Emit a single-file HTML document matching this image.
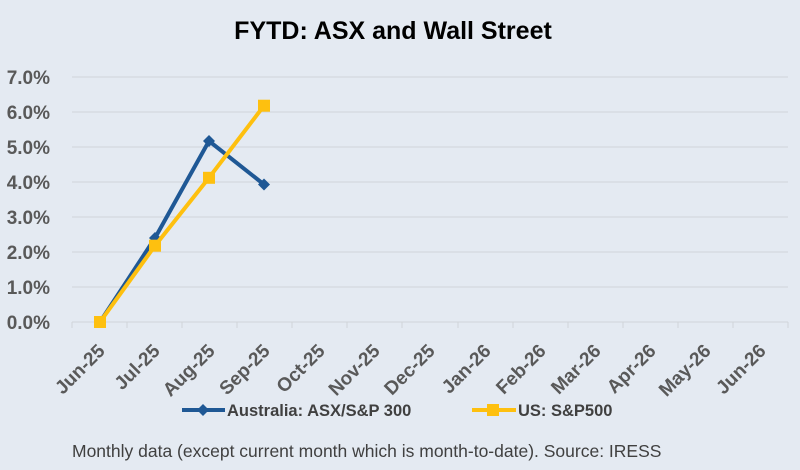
<!DOCTYPE html>
<html><head><style>
body{margin:0;background:#e4eaf2}
svg{display:block}
text{font-family:"Liberation Sans",sans-serif}
</style></head><body>
<svg width="800" height="470" viewBox="0 0 800 470">
<rect width="800" height="470" fill="#e4eaf2"/>
<text x="393" y="39" text-anchor="middle" font-size="25" font-weight="bold" fill="#000">FYTD: ASX and Wall Street</text>
<g stroke="#d0d4d9" stroke-width="1">
<line x1="72" x2="788" y1="77" y2="77"/><line x1="72" x2="788" y1="112" y2="112"/>
<line x1="72" x2="788" y1="147" y2="147"/><line x1="72" x2="788" y1="182" y2="182"/>
<line x1="72" x2="788" y1="217" y2="217"/><line x1="72" x2="788" y1="252" y2="252"/>
<line x1="72" x2="788" y1="287" y2="287"/><line x1="72" x2="788" y1="322" y2="322"/>
</g>
<g stroke="#d0d4d9">
<line x1="72" x2="72" y1="322" y2="328"/><line x1="127" x2="127" y1="322" y2="328"/><line x1="182" x2="182" y1="322" y2="328"/><line x1="237" x2="237" y1="322" y2="328"/><line x1="292" x2="292" y1="322" y2="328"/><line x1="347" x2="347" y1="322" y2="328"/><line x1="402" x2="402" y1="322" y2="328"/><line x1="458" x2="458" y1="322" y2="328"/><line x1="513" x2="513" y1="322" y2="328"/><line x1="568" x2="568" y1="322" y2="328"/><line x1="623" x2="623" y1="322" y2="328"/><line x1="678" x2="678" y1="322" y2="328"/><line x1="733" x2="733" y1="322" y2="328"/><line x1="788" x2="788" y1="322" y2="328"/>
</g>
<g font-size="19" font-weight="bold" fill="#595959" text-anchor="end">
<text x="50" y="84">7.0%</text><text x="50" y="119">6.0%</text><text x="50" y="154">5.0%</text><text x="50" y="189">4.0%</text><text x="50" y="224">3.0%</text><text x="50" y="259">2.0%</text><text x="50" y="294">1.0%</text><text x="50" y="329">0.0%</text>
</g>
<g font-size="19" font-weight="bold" fill="#595959" text-anchor="end">
<text transform="translate(106,352) rotate(-45)">Jun-25</text>
<text transform="translate(161,352) rotate(-45)">Jul-25</text>
<text transform="translate(216,352) rotate(-45)">Aug-25</text>
<text transform="translate(271,352) rotate(-45)">Sep-25</text>
<text transform="translate(326,352) rotate(-45)">Oct-25</text>
<text transform="translate(381,352) rotate(-45)">Nov-25</text>
<text transform="translate(436,352) rotate(-45)">Dec-25</text>
<text transform="translate(492,352) rotate(-45)">Jan-26</text>
<text transform="translate(547,352) rotate(-45)">Feb-26</text>
<text transform="translate(602,352) rotate(-45)">Mar-26</text>
<text transform="translate(657,352) rotate(-45)">Apr-26</text>
<text transform="translate(712,352) rotate(-45)">May-26</text>
<text transform="translate(767,352) rotate(-45)">Jun-26</text>
</g>
<polyline points="100,322 155,238 209,141 264,184.5" fill="none" stroke="#1f5895" stroke-width="4" stroke-linejoin="round"/>
<g fill="#1f5895">
<path d="M100,316 l6,6 -6,6 -6,-6z"/><path d="M155,232 l6,6 -6,6 -6,-6z"/><path d="M209,135 l6,6 -6,6 -6,-6z"/><path d="M264,178.5 l6,6 -6,6 -6,-6z"/>
</g>
<polyline points="100,322 155,245.7 209,177.8 264,105.7" fill="none" stroke="#fec00f" stroke-width="4" stroke-linejoin="round"/>
<g fill="#fec00f">
<rect x="94" y="316" width="12" height="12"/><rect x="149" y="239.7" width="12" height="12"/><rect x="203" y="171.8" width="12" height="12"/><rect x="258" y="99.7" width="12" height="12"/>
</g>
<line x1="182" x2="225" y1="410" y2="410" stroke="#1f5895" stroke-width="4"/>
<path d="M203,404 l6,6 -6,6 -6,-6z" fill="#1f5895"/>
<text x="227" y="416" font-size="16.5" font-weight="bold" fill="#404040">Australia: ASX/S&amp;P 300</text>
<line x1="472" x2="516" y1="410" y2="410" stroke="#fec00f" stroke-width="4"/>
<rect x="487" y="404" width="12" height="12" fill="#fec00f"/>
<text x="518" y="416" font-size="16.5" font-weight="bold" fill="#404040">US: S&amp;P500</text>
<text x="72" y="457" font-size="17.5" fill="#404040">Monthly data (except current month which is month-to-date).  Source: IRESS</text>
</svg>
</body></html>
